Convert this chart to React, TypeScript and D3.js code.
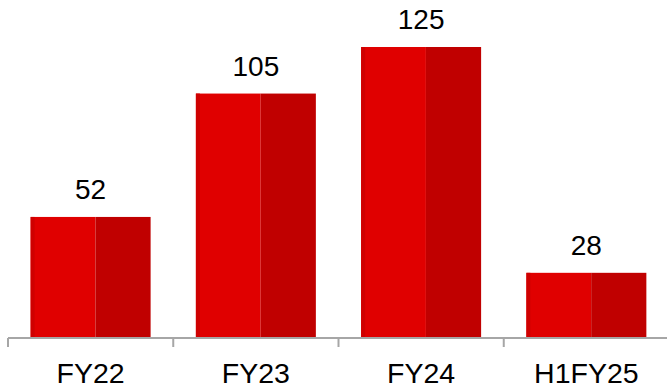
import React from "react";
import * as d3 from "d3";

const categories = ["FY22", "FY23", "FY24", "H1FY25"];
const values = [52, 105, 125, 28];

const W = 667;
const H = 390;
const baseY = 338;
const topY = 47;

export default function App() {
  const x = d3
    .scaleBand<string>()
    .domain(categories)
    .range([8, 669])
    .paddingInner(0.274)
    .paddingOuter(0.137);
  const y = d3.scaleLinear().domain([0, 125]).range([baseY, topY]);
  const bw = x.bandwidth();
  const step = x.step();
  const font = "'Liberation Sans', Arial, sans-serif";

  return (
    <svg
      width={W}
      height={H}
      style={{ position: "absolute", left: 0, top: 0 }}
    >
      {categories.map((c, i) => {
        const x0 = x(c)!;
        const yv = y(values[i]);
        const h = baseY - yv;
        const split = bw * 0.54;
        return (
          <g key={c}>
            <rect x={x0} y={yv} width={split} height={h} fill="#E00000" />
            <rect x={x0 + split} y={yv} width={bw - split} height={h} fill="#C00000" />
            <rect x={x0} y={yv} width={4} height={h} fill="#CF0000" />
            <text
              x={x0 + bw / 2}
              y={yv - 18}
              textAnchor="middle"
              fontFamily={font}
              fontSize={28}
              fill="#000"
            >
              {values[i]}
            </text>
            <text
              x={x0 + bw / 2}
              y={baseY + 45}
              textAnchor="middle"
              fontFamily={font}
              fontSize={28.5}
              fill="#000"
            >
              {c}
            </text>
          </g>
        );
      })}
      <line x1={8} x2={W} y1={baseY} y2={baseY} stroke="#A6A6A6" strokeWidth={2} />
      {d3.range(categories.length + 1).map((i) => (
        <line
          key={i}
          x1={8 + i * step}
          x2={8 + i * step}
          y1={baseY}
          y2={baseY + 9}
          stroke="#A6A6A6"
          strokeWidth={2}
        />
      ))}
    </svg>
  );
}
